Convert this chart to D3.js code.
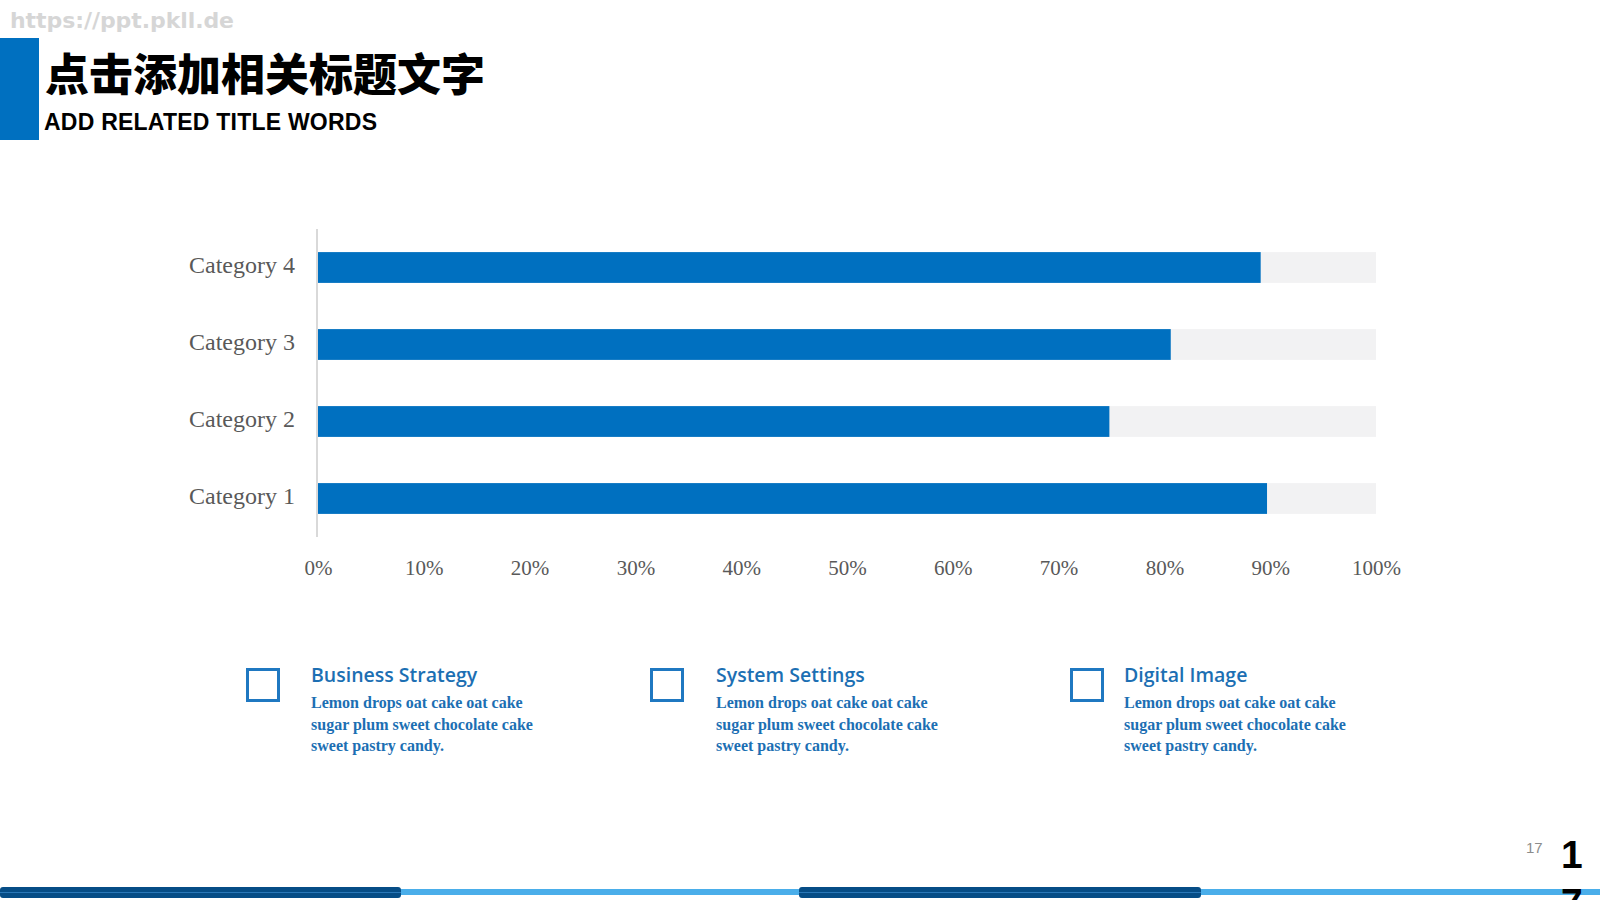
<!DOCTYPE html>
<html>
<head>
<meta charset="utf-8">
<script src="https://cdn.jsdelivr.net/npm/d3@7"></script>
<style>
  html, body { margin: 0; padding: 0; background: #fff; }
  svg { display: block; }
</style>
</head>
<body>
<svg width="1600" height="900"></svg>
<script>
// data
var categories = ["Category 1", "Category 2", "Category 3", "Category 4"];
var values = [89.7, 74.8, 80.6, 89.1];
var xTicks = [0, 10, 20, 30, 40, 50, 60, 70, 80, 90, 100];
var cardTitles = ["Business Strategy", "System Settings", "Digital Image"];
var cardLines = ["Lemon drops oat cake oat cake", "sugar plum sweet chocolate cake", "sweet pastry candy."];

var svg = d3.select("svg");
var blue = "#0070c0", textBlue = "#1c6fb3";

// watermark + header
svg.append("text").attr("x", 10).attr("y", 28)
    .style("font", "bold 22px 'DejaVu Sans', sans-serif").style("fill", "#d6d6d6")
    .attr("textLength", 224)
    .text("https://ppt.pkll.de");
svg.append("rect").attr("x", 0).attr("y", 38).attr("width", 39).attr("height", 102).attr("fill", blue);
svg.append("text").attr("x", 45).attr("y", 91)
    .style("font", "900 44px 'Noto Sans CJK SC', sans-serif").style("fill", "#000")
    .text("点击添加相关标题文字");
svg.append("text").attr("x", 44).attr("y", 130)
    .style("font", "bold 23px 'Liberation Sans', Arial, sans-serif").style("fill", "#000")
    .attr("textLength", 333)
    .text("ADD RELATED TITLE WORDS");

// chart
var x = d3.scaleLinear().domain([0, 100]).range([318, 1376]);
var y = d3.scaleBand().domain(categories.slice().reverse()).range([229, 537])
    .paddingInner(0.6).paddingOuter(0.3);

var g = svg.append("g");

g.selectAll(".bg")
  .data(categories)
  .enter().append("rect")
    .attr("class", "bg")
    .attr("x", x(0))
    .attr("y", function(d) { return y(d); })
    .attr("width", x(100) - x(0))
    .attr("height", y.bandwidth())
    .attr("fill", "#f2f2f3");

g.selectAll(".bar")
  .data(categories)
  .enter().append("rect")
    .attr("class", "bar")
    .attr("x", x(0))
    .attr("y", function(d) { return y(d); })
    .attr("width", function(d, i) { return x(values[i]) - x(0); })
    .attr("height", y.bandwidth())
    .attr("fill", blue);

g.append("line")
    .attr("x1", x(0) - 1).attr("x2", x(0) - 1)
    .attr("y1", 229).attr("y2", 537)
    .attr("stroke", "#d9d9d9").attr("stroke-width", 2);

var yAxis = g.append("g")
    .attr("transform", "translate(" + (x(0) -23) + ",-2)")
    .call(d3.axisLeft(y).tickSize(0).tickPadding(0));
yAxis.select(".domain").remove();
yAxis.selectAll("text")
    .style("font", "24px 'Liberation Serif', serif").style("fill", "#595959");

var xAxis = g.append("g")
    .attr("transform", "translate(0,560)")
    .call(d3.axisBottom(x).tickValues(xTicks).tickSize(0).tickPadding(0)
      .tickFormat(function(d) { return d + "%"; }));
xAxis.select(".domain").remove();
xAxis.selectAll("text")
    .attr("dy", "0.71em")
    .style("font", "21px 'Liberation Serif', serif").style("fill", "#595959");

// cards
var cardX = [246, 650, 1070];
var textX = [311, 716, 1124];
var cards = svg.selectAll(".card")
  .data(cardTitles)
  .enter().append("g")
    .attr("class", "card");

cards.append("rect")
    .attr("x", function(d, i) { return cardX[i] + 1.5; })
    .attr("y", 669.5).attr("width", 31).attr("height", 31)
    .attr("fill", "none").attr("stroke", "#1f78c1").attr("stroke-width", 3);
cards.append("text")
    .attr("x", function(d, i) { return textX[i]; }).attr("y", 682)
    .style("font", "600 19.5px 'Open Sans', sans-serif").style("fill", textBlue)
    .text(function(d) { return d; });
cards.each(function(d, k) {
  d3.select(this).selectAll(".ln")
    .data(cardLines)
    .enter().append("text")
      .attr("class", "ln")
      .attr("x", textX[k])
      .attr("y", function(d, i) { return 708 + i * 21.5; })
      .style("font", "bold 16px 'Liberation Serif', serif").style("fill", textBlue)
      .text(function(d) { return d; });
});

// footer
var segs = [[0, 401, "dark"], [401, 799, "light"], [799, 1201, "dark"], [1201, 1600, "light"]];
segs.forEach(function(s) {
  if (s[2] == "dark") {
    svg.append("rect").attr("x", s[0]).attr("y", 887).attr("width", s[1] - s[0]).attr("height", 11)
        .attr("rx", 3).attr("fill", "#064d86");
    svg.append("rect").attr("x", s[0]).attr("y", 892).attr("width", s[1] - s[0]).attr("height", 1)
        .attr("fill", "#2a78b8");
  } else {
    svg.append("rect").attr("x", s[0]).attr("y", 889).attr("width", s[1] - s[0]).attr("height", 6)
        .attr("fill", "#4aaeea");
  }
});
svg.append("text").attr("x", 1526).attr("y", 853)
    .style("font", "15px 'Liberation Sans', sans-serif").style("fill", "#8c8c8c").text("17");
svg.append("text").attr("x", 1561).attr("y", 868)
    .style("font", "bold 39px 'Liberation Sans', sans-serif").style("fill", "#000").text("1");
svg.append("text").attr("x", 1561).attr("y", 916)
    .style("font", "bold 39px 'Liberation Sans', sans-serif").style("fill", "#000").text("7");
</script>
</body>
</html>
